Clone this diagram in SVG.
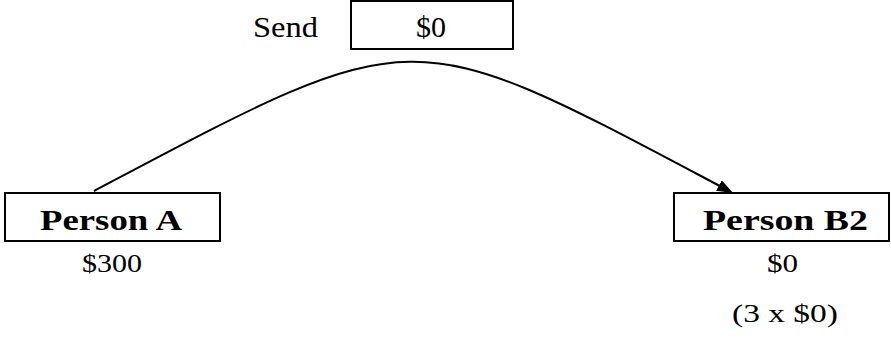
<svg xmlns="http://www.w3.org/2000/svg" width="891" height="339" viewBox="0 0 891 339">
  <style>
    .box { fill: #ffffff; stroke: #000000; stroke-width: 2; }
    .lbl { font-family: "Liberation Serif", "DejaVu Serif", serif; fill: #000000; }
    .bold { font-weight: bold; font-size: 30px; }
    .reg { font-size: 26px; }
    .top { font-size: 30px; }
    .conn { fill: none; stroke: #000000; stroke-width: 2; }
  </style>
  <defs>
    <marker id="arrow" markerUnits="userSpaceOnUse" markerWidth="16" markerHeight="12" refX="8" refY="6" orient="auto">
      <path d="M0,0 L16,6 L0,12 z" fill="#000000"/>
    </marker>
  </defs>
  <rect width="891" height="339" fill="#ffffff"/>
  <g id="connectors">
    <path class="conn" d="M94,191 C421,18 406,20 726,189.3" marker-end="url(#arrow)"/>
  </g>
  <g id="send">
    <text class="lbl top" x="253" y="37" textLength="65" lengthAdjust="spacingAndGlyphs">Send</text>
    <rect class="box" x="351" y="1" width="162" height="48"/>
    <text class="lbl top" x="431" y="37" text-anchor="middle">$0</text>
  </g>
  <g id="personA">
    <rect class="box" x="5" y="193" width="215" height="48"/>
    <text class="lbl bold" x="40" y="230" textLength="142" lengthAdjust="spacingAndGlyphs">Person A</text>
    <text class="lbl reg" x="82" y="272" textLength="60" lengthAdjust="spacingAndGlyphs">$300</text>
  </g>
  <g id="personB2">
    <rect class="box" x="674" y="193" width="215" height="48"/>
    <text class="lbl bold" x="703" y="230" textLength="165" lengthAdjust="spacingAndGlyphs">Person B2</text>
    <text class="lbl reg" x="767" y="272" textLength="31" lengthAdjust="spacingAndGlyphs">$0</text>
    <text class="lbl reg" x="732" y="322" textLength="106" lengthAdjust="spacingAndGlyphs">(3 x $0)</text>
  </g>
</svg>
